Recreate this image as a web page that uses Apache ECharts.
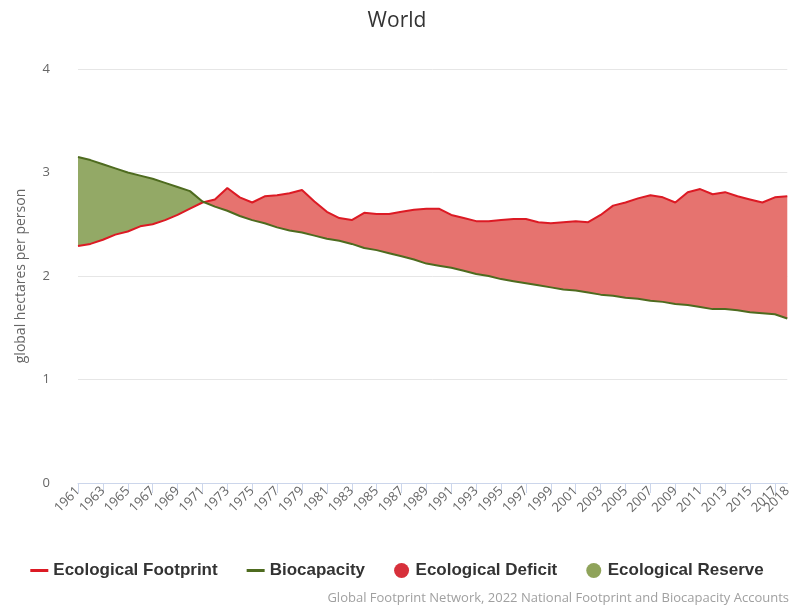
<!DOCTYPE html>
<html>
<head>
<meta charset="utf-8">
<script src="https://cdn.jsdelivr.net/npm/echarts@6/dist/echarts.min.js"></script>
<style>
  html, body { margin: 0; padding: 0; background: #fff; }
  #chart { width: 794px; height: 609px; }
</style>
</head>
<body>
<div id="chart"></div>
<script>
// 年份
const years = [1961, 1962, 1963, 1964, 1965, 1966, 1967, 1968, 1969, 1970,
  1971, 1972, 1973, 1974, 1975, 1976, 1977, 1978, 1979, 1980,
  1981, 1982, 1983, 1984, 1985, 1986, 1987, 1988, 1989, 1990,
  1991, 1992, 1993, 1994, 1995, 1996, 1997, 1998, 1999, 2000,
  2001, 2002, 2003, 2004, 2005, 2006, 2007, 2008, 2009, 2010,
  2011, 2012, 2013, 2014, 2015, 2016, 2017, 2018];

// 生态足迹 (gha / person)
const footprint = [2.29, 2.31, 2.35, 2.40, 2.43, 2.48, 2.50, 2.54, 2.59, 2.65,
  2.71, 2.74, 2.85, 2.76, 2.71, 2.77, 2.78, 2.80, 2.83, 2.72,
  2.62, 2.56, 2.54, 2.61, 2.60, 2.60, 2.62, 2.64, 2.65, 2.65,
  2.59, 2.56, 2.53, 2.53, 2.54, 2.55, 2.55, 2.52, 2.51, 2.52,
  2.53, 2.52, 2.59, 2.68, 2.71, 2.75, 2.78, 2.76, 2.71, 2.81,
  2.84, 2.79, 2.81, 2.77, 2.74, 2.71, 2.76, 2.77];

// 生物承载力
const biocapacity = [3.15, 3.12, 3.08, 3.04, 3.00, 2.97, 2.94, 2.90, 2.86, 2.82,
  2.72, 2.67, 2.63, 2.58, 2.54, 2.51, 2.47, 2.44, 2.42, 2.39,
  2.36, 2.34, 2.31, 2.27, 2.25, 2.22, 2.19, 2.16, 2.12, 2.10,
  2.08, 2.05, 2.02, 2.00, 1.97, 1.95, 1.93, 1.91, 1.89, 1.87,
  1.86, 1.84, 1.82, 1.81, 1.79, 1.78, 1.76, 1.75, 1.73, 1.72,
  1.70, 1.68, 1.68, 1.67, 1.65, 1.64, 1.63, 1.59];

const yTicks = [0, 1, 2, 3, 4];

(function () {
    let myCharts = echarts.init(document.getElementById('chart'));
    let last = years.length - 1;
    let firstYear = years[0], lastYear = years[last];

    let pair = function (arr) {
        return years.map(function (y, i) { return [y, arr[i]]; });
    };
    let segs = years.map(function (y, i) { return [y, footprint[i], biocapacity[i]]; });

    // 两条线之间的填充：把同号的连续段合成一个多边形
    let bandSeries = function (name, color, fill, isDeficit) {
        return {
            name: name,
            type: 'custom',
            itemStyle: { color: color },
            encode: { x: 0, y: [1, 2] },
            data: segs,
            silent: true,
            z: 2,
            renderItem: function (params, api) {
                if (params.dataIndex !== 0) return null;
                let good = function (i) {
                    let m = (footprint[i] - biocapacity[i]) + (footprint[i + 1] - biocapacity[i + 1]);
                    return isDeficit ? m > 0 : m < 0;
                };
                let children = [];
                let i = 0;
                while (i < last) {
                    if (!good(i)) { i++; continue; }
                    let s = i;
                    while (i < last && good(i)) i++;
                    let top = [], bot = [];
                    for (let k = s; k <= i; k++) {
                        top.push(api.coord([years[k], footprint[k]]));
                        bot.unshift(api.coord([years[k], biocapacity[k]]));
                    }
                    children.push({
                        type: 'polygon',
                        shape: { points: top.concat(bot) },
                        style: { fill: fill }
                    });
                }
                return { type: 'group', children: children };
            }
        };
    };

    const font = 'Liberation Sans';
    const lineIcon = 'path://M0,0H18V3H0Z';
    const labelStyle = { rotate: 45, fontFamily: 'Open Sans', fontSize: 13, color: '#666', margin: 6 };

    let option = {
        animation: false,
        title: {
            text: 'World',
            left: 'center',
            top: 6,
            textStyle: { fontFamily: 'Open Sans', fontSize: 21, fontWeight: 'normal', color: '#333' }
        },
        legend: {
            bottom: 25,
            left: 'center',
            itemGap: 29,
            itemWidth: 18,
            itemHeight: 15,
            textStyle: { fontFamily: font, fontSize: 17, fontWeight: 'bold', color: '#333' },
            data: [
                { name: 'Ecological Footprint', icon: lineIcon },
                { name: 'Biocapacity', icon: lineIcon },
                { name: 'Ecological Deficit', icon: 'circle' },
                { name: 'Ecological Reserve', icon: 'circle' }
            ]
        },
        grid: { left: 78, right: 5, top: 69, bottom: 126 },
        xAxis: [{
            type: 'value',
            min: firstYear,
            max: lastYear,
            interval: 2,
            splitLine: { show: false },
            axisLine: { lineStyle: { color: '#ccd6eb' } },
            axisTick: { show: true, length: 10, lineStyle: { color: '#ccd6eb' } },
            axisLabel: Object.assign({
                showMinLabel: true,
                showMaxLabel: false,
                formatter: function (v) { return String(v); }
            }, labelStyle)
        }, {
            // 只显示最后一年的标签
            type: 'value',
            position: 'bottom',
            min: firstYear,
            max: lastYear,
            interval: lastYear - firstYear,
            splitLine: { show: false },
            axisLine: { show: false },
            axisTick: { show: false },
            axisLabel: Object.assign({
                showMinLabel: false,
                showMaxLabel: true,
                formatter: function (v) { return v === lastYear ? String(v) : ''; }
            }, labelStyle)
        }],
        yAxis: {
            type: 'value',
            min: yTicks[0],
            max: yTicks[yTicks.length - 1],
            interval: 1,
            name: 'global hectares per person',
            nameLocation: 'middle',
            nameGap: 50,
            nameTextStyle: { fontFamily: 'Open Sans', fontSize: 14, color: '#666' },
            axisLine: { show: false },
            axisTick: { show: false },
            axisLabel: { fontFamily: 'Open Sans', fontSize: 13, color: '#666', margin: 28 },
            splitLine: { lineStyle: { color: '#e6e6e6' } }
        },
        series: [
            bandSeries('Ecological Deficit', '#d7303b', '#e6736f', true),
            bandSeries('Ecological Reserve', '#8fa35a', '#93a966', false),
            {
                name: 'Ecological Footprint', type: 'line', symbol: 'none',
                data: pair(footprint),
                itemStyle: { color: '#dc1a24' },
                lineStyle: { width: 2, color: '#dc1a24' },
                z: 5
            },
            {
                name: 'Biocapacity', type: 'line', symbol: 'none',
                data: pair(biocapacity),
                itemStyle: { color: '#4e6b1f' },
                lineStyle: { width: 2, color: '#4e6b1f' },
                z: 5
            }
        ],
        graphic: [{
            type: 'text',
            right: 5,
            bottom: 4,
            style: {
                text: 'Global Footprint Network, 2022 National Footprint and Biocapacity Accounts',
                fontFamily: 'Open Sans',
                fontSize: 13,
                fill: '#a0a0a0'
            }
        }]
    };

    myCharts.setOption(option);
    window.addEventListener('resize', function () {
        myCharts.resize();
    });
})();
</script>
</body>
</html>
